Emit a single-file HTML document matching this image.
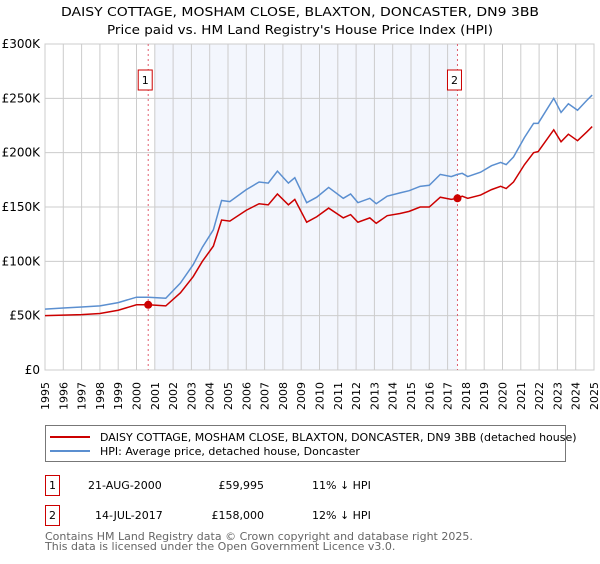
<!DOCTYPE html>
<html><head><meta charset="utf-8">
<style>
body{margin:0;background:#fff;font-family:"DejaVu Sans","Liberation Sans",sans-serif;}
svg text{font-family:"DejaVu Sans","Liberation Sans",sans-serif;}
</style></head>
<body>
<svg id="chart" width="600" height="560" viewBox="0 0 600 560" xmlns="http://www.w3.org/2000/svg">
<text x="300" y="16" text-anchor="middle" font-size="12.5" fill="#000" textLength="478" lengthAdjust="spacingAndGlyphs">DAISY COTTAGE, MOSHAM CLOSE, BLAXTON, DONCASTER, DN9 3BB</text>
<text x="300" y="34" text-anchor="middle" font-size="12.5" fill="#000" textLength="386" lengthAdjust="spacingAndGlyphs">Price paid vs. HM Land Registry's House Price Index (HPI)</text>
<g id="plot"></g>
<rect x="45.5" y="425.5" width="520" height="36" fill="#fff" stroke="#777"/>
<line x1="50" y1="437" x2="90" y2="437" stroke="#cc0000" stroke-width="2"/>
<text x="100" y="441" font-size="11">DAISY COTTAGE, MOSHAM CLOSE, BLAXTON, DONCASTER, DN9 3BB (detached house)</text>
<line x1="50" y1="451" x2="90" y2="451" stroke="#5b8fd0" stroke-width="2"/>
<text x="100" y="455" font-size="11">HPI: Average price, detached house, Doncaster</text>
<g font-size="11">
<rect x="45.5" y="475.5" width="14" height="20" fill="#fff" stroke="#cc0000"/>
<text x="52.5" y="489" text-anchor="middle">1</text>
<text x="88" y="489">21-AUG-2000</text>
<text x="264" y="489" text-anchor="end">£59,995</text>
<text x="312" y="489">11% ↓ HPI</text>
</g>
<g font-size="11">
<rect x="45.5" y="505.5" width="14" height="20" fill="#fff" stroke="#cc0000"/>
<text x="52.5" y="519" text-anchor="middle">2</text>
<text x="95" y="519">14-JUL-2017</text>
<text x="264" y="519" text-anchor="end">£158,000</text>
<text x="312" y="519">12% ↓ HPI</text>
</g>
<text x="45" y="540" font-size="11" fill="#666">Contains HM Land Registry data © Crown copyright and database right 2025.</text>
<text x="45" y="550" font-size="11" fill="#666">This data is licensed under the Open Government Licence v3.0.</text>
</svg>
<script>
const years=[1995,1996,1997,1998,1999,2000,2000.64,2001.6,2002.4,2003.1,2003.6,2004.2,2004.65,2005.1,2006,2006.7,2007.2,2007.7,2008.3,2008.65,2009.3,2009.85,2010.5,2011.3,2011.7,2012.1,2012.75,2013.1,2013.7,2014.4,2014.9,2015.5,2016,2016.6,2017.2,2017.54,2017.8,2018.1,2018.8,2019.4,2019.9,2020.2,2020.6,2021.2,2021.7,2021.95,2022.8,2023.2,2023.6,2024.1,2024.6,2024.9];
const hpiValues=[56,57,58,59,62,67,67,66,80,97,113,129,156,155,166,173,172,183,172,177,154,159,168,158,162,154,158,153,160,163,165,169,170,180,178,180,181,178,182,188,191,189,196,214,227,227,250,237,245,239,248,253];
const priceValues=[50,50.5,51,52,55,60,60,59,71,86,100,114,138,137,147,153,152,162,152,157,136,141,149,140,143,136,140,135,142,144,146,150,150,159,157,158,160,158,161,166,169,167,173,189,200,201,221,210,217,211,219,224];
const saleYears=[2000.64,2017.54];
const salePrices=[59.995,158];
const saleLabels=["1","2"];
const yTicks=[0,50,100,150,200,250,300];
const yTickLabels=["£0","£50K","£100K","£150K","£200K","£250K","£300K"];
const xTicks=[1995,1996,1997,1998,1999,2000,2001,2002,2003,2004,2005,2006,2007,2008,2009,2010,2011,2012,2013,2014,2015,2016,2017,2018,2019,2020,2021,2022,2023,2024,2025];

const X0=45,X1=594,Y0=370,Y1=44;
const xs=y=>X0+(y-1995)/30*(X1-X0);
const ys=v=>Y0-v/300*(Y0-Y1);
const NS="http://www.w3.org/2000/svg";
const g=document.getElementById('plot');
function mk(t,a){const e=document.createElementNS(NS,t);for(const k in a)e.setAttribute(k,a[k]);g.appendChild(e);return e;}

let bg=mk('rect',{x:X0,y:Y1,width:X1-X0,height:Y0-Y1,fill:'#fff'});


let sh=mk('rect',{x:xs(2001),y:Y1,width:xs(saleYears[1])-xs(2001),height:Y0-Y1,fill:'#f3f6fd'});



xTicks.forEach(t=>{
  const l=mk('line',{x1:xs(t),x2:xs(t),y1:Y1,y2:Y0,stroke:'#cccccc','stroke-width':1});
  
  
  const tx=mk('text',{x:0,y:0,'font-size':11,'text-anchor':'end',transform:`translate(${xs(t)+4},${Y0+12}) rotate(-90)`});
  tx.textContent=t;
  
  
});
yTicks.forEach((t,i)=>{
  const l=mk('line',{x1:X0,x2:X1,y1:ys(t),y2:ys(t),stroke:'#cccccc','stroke-width':1});
  
  
  const tx=mk('text',{x:X0-5,y:ys(t)+4,'font-size':12,'text-anchor':'end'});
  tx.textContent=yTickLabels[i];
  
  
});
let fr=mk('rect',{x:X0,y:Y1,width:X1-X0,height:Y0-Y1,fill:'none',stroke:'#cccccc'});



saleYears.forEach((sy,i)=>{
  const l=mk('line',{x1:xs(sy),x2:xs(sy),y1:Y1,y2:Y0,stroke:'#e06070','stroke-width':1,'stroke-dasharray':'2,3'});
  
  
  const b=mk('rect',{x:xs(sy)-10,y:70,width:14,height:20,fill:'#fff',stroke:'#cc0000'});
  
  
  const t=mk('text',{x:xs(sy)-3,y:84,'font-size':11,'text-anchor':'middle'});
  t.textContent=saleLabels[i];
  
  
});

const hp=mk('polyline',{points:years.map((y,i)=>xs(y)+','+ys(hpiValues[i])).join(' '),fill:'none',stroke:'#5b8fd0','stroke-width':1.5});


const pp=mk('polyline',{points:years.map((y,i)=>xs(y)+','+ys(priceValues[i])).join(' '),fill:'none',stroke:'#cc0000','stroke-width':1.5});


saleYears.forEach((sy,i)=>{
  const c=mk('circle',{cx:xs(sy),cy:ys(salePrices[i]),r:4,fill:'#cc0000'});
  
  
});
</script>
</body></html>
